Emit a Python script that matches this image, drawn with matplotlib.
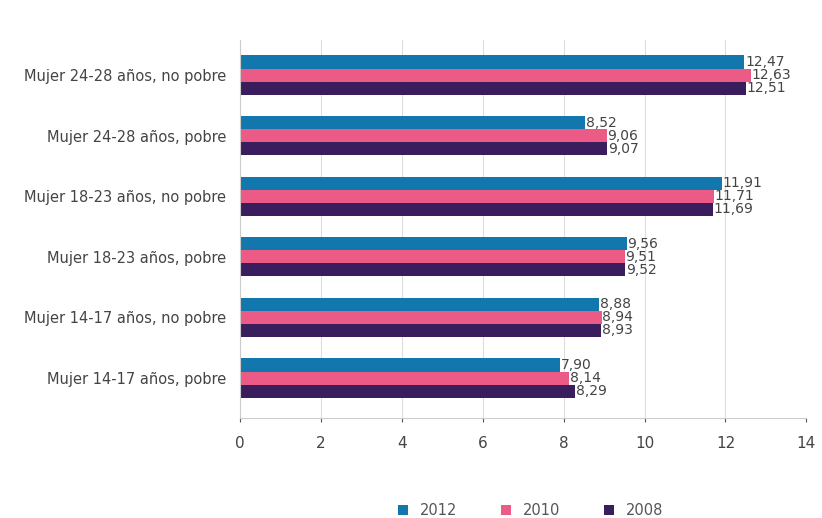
import matplotlib.pyplot as plt
import numpy as np

categories = ["Mujer 14-17 años, pobre", "Mujer 14-17 años, no pobre",
              "Mujer 18-23 años, pobre", "Mujer 18-23 años, no pobre",
              "Mujer 24-28 años, pobre", "Mujer 24-28 años, no pobre"]
years = ["2012", "2010", "2008"]
v2012 = [7.90, 8.88, 9.56, 11.91, 8.52, 12.47]
v2010 = [8.14, 8.94, 9.51, 11.71, 9.06, 12.63]
v2008 = [8.29, 8.93, 9.52, 11.69, 9.07, 12.51]
colors = ["#1277ac", "#ec5a86", "#3a1d5c"]

fig = plt.figure(figsize=(8.22, 5.18), dpi=100)
ax = fig.add_axes([0.292, 0.193, 0.689, 0.73])

y = np.arange(len(categories))
h = 0.215
series = [v2012, v2010, v2008]
offsets = [h, 0, -h]
for vals, off, col, yr in zip(series, offsets, colors, years):
    ax.barh(y + off, vals, height=h, color=col, label=yr, zorder=2)
    for yi, v in zip(y, vals):
        ax.text(v + 0.02, yi + off, f"{v:.2f}".replace(".", ","),
                va="center", ha="left", fontsize=10, color="#444444")

ax.set_xlim(0, 14)
ax.set_ylim(-0.66, 5.58)
ax.set_xticks(range(0, 15, 2))
ax.set_yticks(y)
ax.set_yticklabels(categories, fontsize=10.5, color="#444444")
ax.tick_params(axis="x", labelsize=11, colors="#555555", length=3, pad=10)
ax.tick_params(axis="x", labelcolor="#444444")
ax.tick_params(axis="y", length=0, pad=10)
ax.grid(axis="x", color="#dddddd", linewidth=0.8, zorder=0)
for s in ["top", "right"]:
    ax.spines[s].set_visible(False)
for s in ["left", "bottom"]:
    ax.spines[s].set_color("#cccccc")

fig.legend(loc="lower center", bbox_to_anchor=(0.645, -0.025), ncol=3, frameon=False,
           handlelength=0.7, handleheight=0.7, columnspacing=3.0, fontsize=10.5,
           labelcolor="#555555")

fig.savefig("out.png", dpi=100)
